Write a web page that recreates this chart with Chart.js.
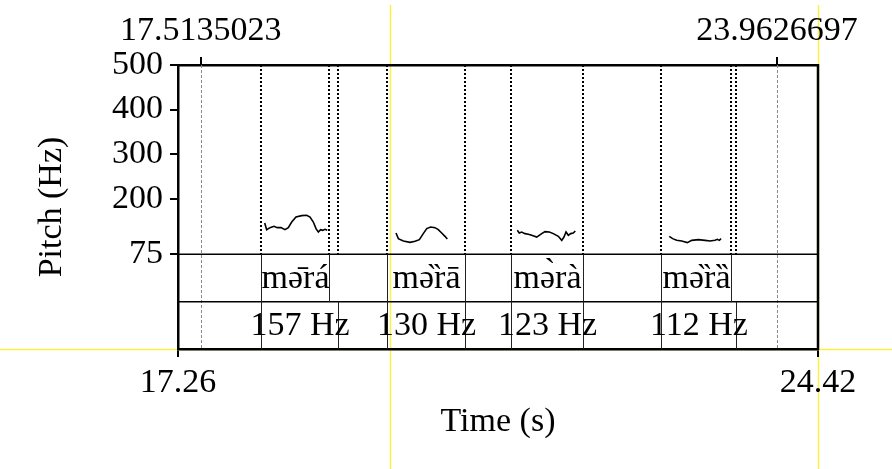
<!DOCTYPE html>
<html>
<head>
<meta charset="utf-8">
<script src="https://cdn.jsdelivr.net/npm/chart.js@4.4.1/dist/chart.umd.min.js"></script>
<style>
  html, body { margin: 0; padding: 0; background: #fff; }
  canvas { display: block; }
</style>
</head>
<body>
<canvas id="pitchChart" width="892" height="469"></canvas>
<script>
// time window and pitch range
const timeRange = [17.26, 24.42];
const selection = [17.5135023, 23.9626697];
const pitchRange = [75, 500];
const pitchTicks = [500, 400, 300, 200, 75];

// pitch contours (time in s, f0 in Hz)
const contour1Time = [18.230, 18.252, 18.289, 18.334, 18.371, 18.412, 18.457, 18.494, 18.532, 18.580, 18.644, 18.700, 18.737, 18.774, 18.804, 18.830, 18.856, 18.879, 18.905, 18.930];
const contour1Hz   = [145.3, 130.4, 134.9, 137.9, 134.9, 134.9, 130.4, 134.9, 147.5, 158.7, 161.8, 162.6, 158.7, 147.5, 132.7, 125.1, 130.4, 128.9, 131.1, 128.9];
const contour2Time = [19.699, 19.725, 19.781, 19.856, 19.912, 19.960, 20.004, 20.043, 20.087, 20.135, 20.172, 20.210, 20.247, 20.273];
const contour2Hz   = [122.8, 110.2, 104.8, 101.9, 104.2, 108.0, 121.5, 132.7, 136.3, 134.9, 130.4, 122.8, 115.4, 109.3];
const contour3Time = [21.056, 21.078, 21.105, 21.142, 21.179, 21.217, 21.273, 21.329, 21.366, 21.414, 21.459, 21.515, 21.553, 21.578, 21.601, 21.627, 21.653, 21.682, 21.705];
const contour3Hz   = [128.9, 122.8, 125.1, 121.5, 119.9, 117.7, 113.8, 121.5, 126.0, 125.1, 121.5, 115.4, 106.4, 113.8, 125.1, 117.7, 121.5, 122.8, 127.3];
const contour4Time = [22.756, 22.794, 22.839, 22.895, 22.958, 23.007, 23.081, 23.156, 23.212, 23.268, 23.294, 23.316, 23.335];
const contour4Hz   = [115.4, 110.2, 106.4, 104.8, 101.3, 106.4, 108.0, 106.4, 104.8, 106.4, 108.7, 106.4, 110.2];

// TextGrid tiers
const wordIntervals = [[18.185, 18.946], [19.601, 20.471], [20.985, 21.794], [22.660, 23.443]];
const wordLabels = ['mə̄rá', 'mə̏rā', 'mə̀rà', 'mə̏rȁ'];
const f0Intervals = [[18.185, 19.047], [19.601, 20.471], [20.985, 21.794], [22.660, 23.502]];
const f0Labels = ['157 Hz', '130 Hz', '123 Hz', '112 Hz'];

const FONT = '"Liberation Serif", "DejaVu Serif", serif';
// the two tiers take half as much height as the pitch panel
const yFloor = pitchRange[0] - (pitchRange[1] - pitchRange[0]) * 0.5;

function toPoints(times, values) {
    return times.map((t, i) => ({ x: t, y: values[i] }));
}

function contourSet(times, values) {
    return {
        data: toPoints(times, values),
        borderColor: '#000',
        borderWidth: 1.6,
        pointRadius: 0,
        tension: 0,
        fill: false,
    };
}

const tierPlugin = {
    id: 'tiers',
    beforeDraw(chart) {
        const ctx = chart.ctx;
        const area = chart.chartArea;
        ctx.save();
        ctx.fillStyle = '#fff';
        ctx.fillRect(0, 0, chart.width, chart.height);
        // yellow alignment guides from the original screenshot
        ctx.strokeStyle = 'rgb(255, 240, 70)';
        ctx.lineWidth = 1.5;
        ctx.beginPath();
        ctx.moveTo(390.5, 5); ctx.lineTo(390.5, chart.height);
        ctx.moveTo(Math.round(area.right) + 0.5, 5); ctx.lineTo(Math.round(area.right) + 0.5, chart.height);
        ctx.moveTo(0, Math.round(area.bottom) + 0.5); ctx.lineTo(chart.width, Math.round(area.bottom) + 0.5);
        ctx.stroke();
        ctx.restore();
    },
    afterDatasetsDraw(chart) {
        const { ctx, chartArea, scales } = chart;
        const xs = scales.x, ys = scales.y;
        const tierTop = ys.getPixelForValue(pitchRange[0]);
        const tierBottom = chartArea.bottom;
        const tierMid = (tierTop + tierBottom) / 2;
        ctx.save();

        // selection markers (grey dotted, full height)
        ctx.strokeStyle = '#888';
        ctx.lineWidth = 1;
        ctx.setLineDash([3, 2]);
        selection.forEach(t => {
            const px = Math.round(xs.getPixelForValue(t)) + 0.5;
            ctx.beginPath();
            ctx.moveTo(px, chartArea.top);
            ctx.lineTo(px, tierBottom);
            ctx.stroke();
        });

        // boundaries dotted in the pitch panel
        ctx.strokeStyle = '#000';
        ctx.lineWidth = 2;
        ctx.setLineDash([2, 2]);
        [...wordIntervals, ...f0Intervals].flat().forEach(t => {
            const px = Math.round(xs.getPixelForValue(t));
            ctx.beginPath();
            ctx.moveTo(px, chartArea.top);
            ctx.lineTo(px, tierTop);
            ctx.stroke();
        });
        ctx.setLineDash([]);

        // tier separators
        ctx.lineWidth = 1.5;
        ctx.beginPath();
        ctx.moveTo(chartArea.left, tierTop); ctx.lineTo(chartArea.right, tierTop);
        ctx.moveTo(chartArea.left, tierMid); ctx.lineTo(chartArea.right, tierMid);
        ctx.stroke();

        // interval boundaries inside each tier
        ctx.strokeStyle = '#222';
        ctx.lineWidth = 1;
        const drawTier = (intervals, labels, top, bottom) => {
            intervals.forEach((iv, i) => {
                const a = Math.round(xs.getPixelForValue(iv[0])) + 0.5;
                const b = Math.round(xs.getPixelForValue(iv[1])) + 0.5;
                ctx.beginPath();
                ctx.moveTo(a, top); ctx.lineTo(a, bottom);
                ctx.moveTo(b, top); ctx.lineTo(b, bottom);
                ctx.stroke();
                ctx.fillStyle = '#000';
                ctx.font = '34px ' + FONT;
                ctx.textAlign = 'center';
                ctx.textBaseline = 'middle';
                ctx.fillText(labels[i], (a + b) / 2, (top + bottom) / 2 + 1);
            });
        };
        drawTier(wordIntervals, wordLabels, tierTop, tierMid);
        drawTier(f0Intervals, f0Labels, tierMid, tierBottom);

        // right frame edge
        ctx.strokeStyle = '#000';
        ctx.lineWidth = 2.5;
        ctx.beginPath();
        ctx.moveTo(chartArea.right, chartArea.top - 1);
        ctx.lineTo(chartArea.right, chartArea.bottom + 1);
        ctx.stroke();
        ctx.restore();
    }
};

const tickFont = { family: FONT, size: 34 };

new Chart(document.getElementById('pitchChart'), {
    type: 'line',
    data: {
        datasets: [
            contourSet(contour1Time, contour1Hz),
            contourSet(contour2Time, contour2Hz),
            contourSet(contour3Time, contour3Hz),
            contourSet(contour4Time, contour4Hz),
        ],
    },
    options: {
        responsive: false,
        animation: false,
        layout: { padding: { left: 0, right: 74, top: 0, bottom: 0 } },
        plugins: { legend: { display: false }, tooltip: { enabled: false } },
        scales: {
            x: {
                type: 'linear',
                position: 'bottom',
                min: timeRange[0],
                max: timeRange[1],
                afterFit: s => { s.height = 120; },
                afterBuildTicks: s => { s.ticks = timeRange.map(v => ({ value: v })); },
                ticks: { font: tickFont, color: '#000', padding: 6, maxRotation: 0, autoSkip: false,
                         callback: v => v.toFixed(2) },
                grid: { drawOnChartArea: false, drawTicks: true, tickLength: 8, color: '#000', lineWidth: 2 },
                border: { display: true, color: '#000', width: 2.5 },
                title: { display: true, text: 'Time (s)', font: tickFont, color: '#000', padding: { top: 0, bottom: 27 } },
            },
            xTop: {
                type: 'linear',
                position: 'top',
                min: timeRange[0],
                max: timeRange[1],
                afterFit: s => { s.height = 65; },
                afterBuildTicks: s => { s.ticks = selection.map(v => ({ value: v })); },
                ticks: { font: tickFont, color: '#000', padding: 6, maxRotation: 0, autoSkip: false,
                         callback: v => String(v) },
                grid: { drawOnChartArea: false, drawTicks: true, tickLength: 8, color: '#000', lineWidth: 2 },
                border: { display: true, color: '#000', width: 2.5 },
            },
            y: {
                type: 'linear',
                position: 'left',
                min: yFloor,
                max: pitchRange[1],
                afterFit: s => { s.width = 178; },
                afterBuildTicks: s => { s.ticks = pitchTicks.map(v => ({ value: v })); },
                ticks: { font: tickFont, color: '#000', padding: 7, autoSkip: false },
                grid: { drawOnChartArea: false, drawTicks: true, tickLength: 8, color: '#000', lineWidth: 2 },
                border: { display: true, color: '#000', width: 2.5 },
                title: { display: true, text: 'Pitch (Hz)', font: tickFont, color: '#000', padding: { top: 32, bottom: 0 } },
            },
        },
    },
    plugins: [tierPlugin],
});
</script>
</body>
</html>
